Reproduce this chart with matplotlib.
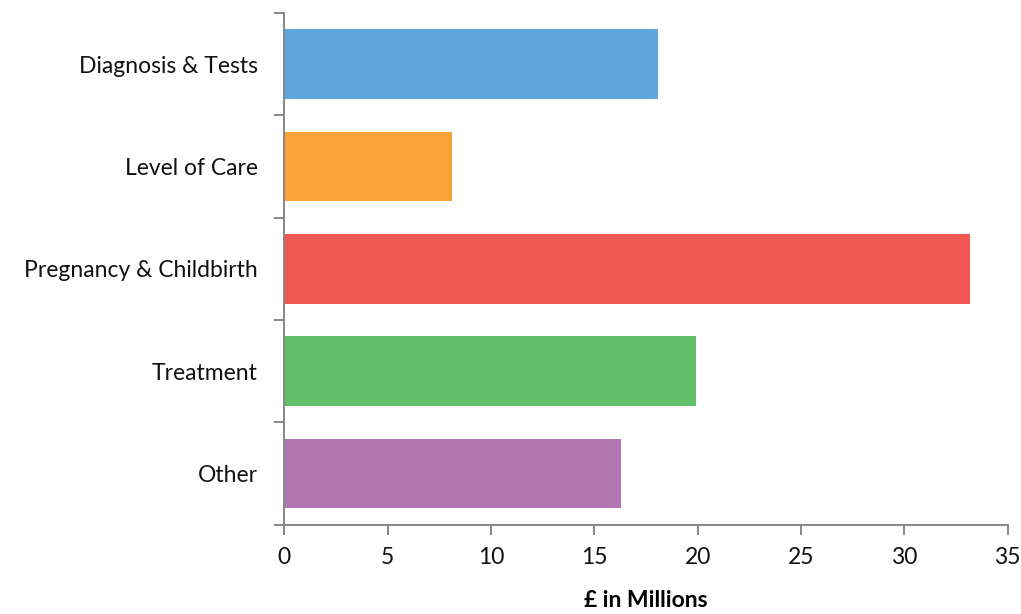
import matplotlib
matplotlib.use("Agg")
import matplotlib.pyplot as plt
import numpy as np

categories = ["Diagnosis & Tests", "Level of Care", "Pregnancy & Childbirth", "Treatment", "Other"]
values = [18.1, 8.1, 33.2, 19.9, 16.3]
colors = ["#5DA5DA", "#FAA43A", "#F15854", "#60BD68", "#B276B2"]
xticks = [0, 5, 10, 15, 20, 25, 30, 35]

plt.rcParams["font.family"] = ["Lato", "DejaVu Sans"]

fig = plt.figure(figsize=(10.21, 6.14), dpi=100)
ax = fig.add_axes([0.2785, 0.1454, 0.7083, 0.8334])

pos = np.arange(len(categories))
ax.barh(pos, values, height=0.68, color=colors)

ax.set_xlim(0, 35)
ax.set_ylim(len(categories) - 0.5, -0.5)

# ticks at category boundaries, labels at centres
ax.set_yticks(np.arange(-0.5, len(categories), 1.0))
ax.set_yticklabels([])
ax.set_yticks(pos, minor=True)
ax.set_yticklabels(categories, minor=True, fontsize=16.5, color="#111111")
ax.tick_params(axis="y", which="minor", length=0, pad=19)
ax.tick_params(axis="y", which="major", length=7, width=1.4, color="#868686", direction="out")

ax.set_xticks(xticks)
ax.set_xticklabels([str(t) for t in xticks], fontsize=16.5, color="#111111")
ax.tick_params(axis="x", length=7, width=1.4, color="#868686", direction="out", pad=9)

ax.set_xlabel("£ in Millions", fontsize=16.5, fontweight="bold", labelpad=16)

for side in ["top", "right"]:
    ax.spines[side].set_visible(False)
for side in ["left", "bottom"]:
    ax.spines[side].set_color("#868686")
    ax.spines[side].set_linewidth(1.4)

fig.savefig("out.png", dpi=100)
